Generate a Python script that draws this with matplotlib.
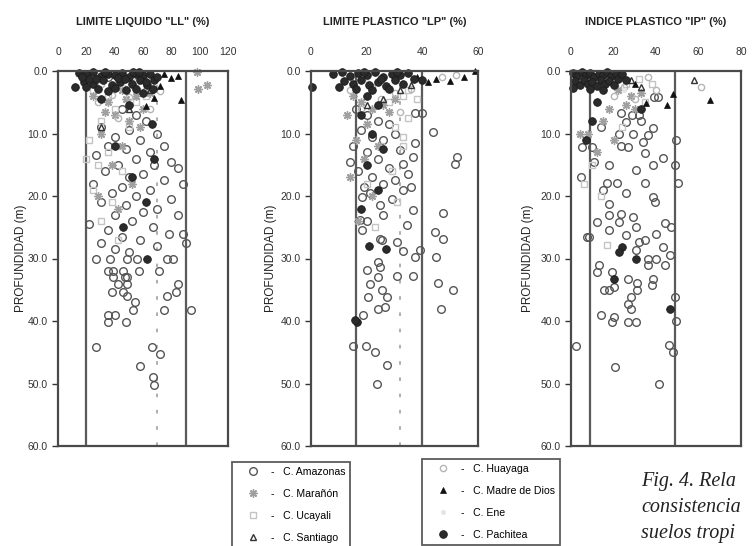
import matplotlib
matplotlib.use("Agg")
import matplotlib.pyplot as plt
from matplotlib.lines import Line2D

plt.rcParams['font.family'] = ['Liberation Sans', 'DejaVu Sans']

# data: (value %, depth m)
ll_amazonas = [(25,1.0),(35,1.0),(45,6),(55,7),(62,8),(30,9),(50,9.5),(70,10),(40,10.5),(58,11),(35,12),(75,12),
               (48,12.5),(65,13),(27,13.5),(55,14),(80,14.5),(42,15),(68,15),(85,15.5),(33,16),(60,16.5),(50,17),
               (75,17.5),(25,18),(45,18.5),(88,18),(65,19),(38,19.5),(55,20),(80,20.5),(30,21),(48,21.5),(70,22),
               (60,22.5),(40,23),(85,23),(52,24),(22,24.5),(67,25),(35,25.5),(78,26),(45,26.5),(88,26),(58,27),
               (30,27.5),(70,28),(90,27.5),(40,28.5),(50,29),
               (27,30),(37,30),(49,30),(56,30),(77,30),(81,30),(35,32),(39,32),(46,32),(57,32),(71,32),(39,33),
               (47,33),(49,33),(42,34),(49,34),(85,34),(38,35.3),(46,35.3),(83,35.3),(49,36),(77,36),(54,37),
               (53,38.2),(75,38.2),(94,38.2),(35,39),(40,39),(35,40.2),(48,40.2),(27,44.2),(66,44.2),(72,45.3),
               (58,47.2),(68,50.2),(67,49)]
ll_ucayali = [(25,3),(35,4),(55,5),(40,6),(30,8),(50,9),(22,11),(35,13),(28,15),(45,16),(25,19),(38,21),(30,24),
              (42,27),(20,14),(62,4)]
ll_maranon = [(98,0.1),(99,2.8),(105,2.2),(45,3),(55,4),(35,5),(60,6),(40,7),(50,8),(30,10),(45,12),(38,15),
              (52,18),(28,20),(42,22),(33,6.5),(48,4.5),(65,3.5),(25,4),(58,9)]
ll_huayaga = [(20,1),(30,2),(45,2.5),(55,1.8),(62,3),(38,3.8),(50,4.2),(28,5),(65,6),(42,7.5),(72,3.2)]
ll_ene = [(30,1.5),(45,2),(58,3)]
ll_santiago = [(65,3),(40,2.5),(50,6),(30,9)]
ll_madre = [(80,1.1),(87,4.6),(68,4.3),(62,5.6),(75,0.4),(72,2.4),(85,0.8)]
ll_pachitea = [(15,0.3),(20,0.5),(25,0.2),(30,0.8),(35,0.4),(40,0.6),(45,0.3),(50,0.9),(55,0.5),(60,0.7),(65,0.4),
               (68,1.5),(18,1.8),(25,2.0),(32,1.5),(38,2.2),(44,1.7),(52,2.0),(58,1.4),(63,2.3),(28,2.8),(48,3.0),
               (12,2.5),(70,1.0),(42,1.1),(22,1.2),(55,2.8),(35,3.2),(60,3.5),(17,1.0),(27,1.3),(33,0.2),(47,1.3),
               (53,0.2),(62,1.8),(67,2.8),(20,2.6),(40,2.7),(57,0.2),(30,4.5),(50,5.5),(66,8.5),(40,12),(68,14),
               (52,17),(62,21),(46,25),(63,30)]

lp_amazonas = [(37.5,6.7),(40,6.7),(44,9.8),(52.4,13.7),(51.8,14.8),(37.4,11.5),(36.6,13.7),(33,14.8),(32,12.6),
               (47.4,22.7),(44.6,25.8),(47.4,26.8),(45,29.8),(45.7,33.9),(51,35),(46.7,38),(36.6,22.2),(34.4,24.6),
               (33,28.8),(39,28.6),(37.4,29.8),(36.6,32.8),(31,32.8),(24.8,26.8),(25.5,27),(31,27.3),(24,30.6),
               (24.8,31.4),(20,31.8),(24,32.9),(21.3,34),(25.5,35),(27.2,36.1),(20.5,36.2),(26.5,37.7),(24,38),
               (18.7,39),(18.3,20.2),(21.2,19.5),(24.8,21.4),(17.6,23.8),(20,24),(18.3,25.4),(25.9,23),(15.1,44),
               (19.8,44),(23,45),(27.3,47),(23.7,50),
               (16,6),(20,7),(24,8),(28,8.5),(18,9.5),(22,10.5),(26,11),(30,10),(15,12),(20,13),(24,14),(28,15.5),
               (17,16),(22,17),(26,18),(30,17.5),(19,18.5),(33,19),(35,16.5),(14,14.5),(29,20.5),(36,18.5)]
lp_ucayali = [(28,5),(33,4),(35,7.5),(30,9),(25,12),(33,12),(29,16),(20,18),(31,21),(23,25),(35,3),(38,4.5),
              (33,10.5)]
lp_maranon = [(15,4),(18,5),(22,6),(13,7),(26,5.5),(20,8.5),(16,11),(24,12),(19,14),(14,17),(22,20),(30,4.5),
              (28,6.5),(17,24)]
lp_huayaga = [(14,3),(22,2.5),(30,3.5),(36,2.8),(47,1.0),(52,0.6),(25,4.5),(18,6),(32,6.5)]
lp_ene = [(20,1.5),(27,3)]
lp_santiago = [(32,3),(26,4.5),(20,5.5),(36,2.2)]
lp_madre = [(59,0),(45,1.2),(50,1.6),(55,1.0),(42,1.8),(38,1.0)]
lp_pachitea = [(8,0.5),(11,0.2),(14,0.8),(17,0.3),(20,0.6),(23,0.2),(26,0.9),(29,0.4),(32,0.7),(35,0.3),(12,1.6),
               (15,2.0),(18,1.4),(21,2.2),(24,1.7),(27,2.4),(30,1.5),(33,2.0),(37,1.2),(40,1.5),(10,2.6),(16,2.9),
               (22,3.0),(28,2.8),(19,0.1),(25,1.2),(31,0.1),(0.5,2.6),(20,4),(24,5.5),(18,7),(22,10),(26,12.5),
               (20,15),(24,19),(18,22),(16.5,40.2),(15.8,39.8),(21,28),(27,28.5)]

ip_amazonas = [(39,4.2),(41,4.2),(31.8,7),(28.5,7),(23.4,6.7),(26,8.2),(38.8,9.1),(36.4,10.2),(29.4,10),(22.4,10),
               (34,11.3),(49.5,11),(27,12.2),(35,13.1),(23.4,12),(9.8,12.2),(5,12.2),(43.5,13.9),(49,15),(38.8,15),
               (30.4,15.8),(4.7,16.9),(16.8,17.9),(21.5,17.9),(35,17.9),(50.5,17.9),(17.8,21.2),(23.4,22.8),
               (17.8,23),(12.3,24.2),(22.4,24.2),(29.4,23.4),(30.4,25),(17.8,25.4),(7.5,26.5),(39.6,21),(38.8,20.1),
               (44.3,24.3),(47,24.9),(40.2,26),(35,27),(31.8,27.3),(25.7,26.2),(43.5,28.1),(30.4,28.6),(36.4,30),
               (40.2,30),(46.7,29.4),(44.3,31),(36.4,31),(13,31),(12.3,32.1),(19.2,32.1),(27,33.2),(38.8,33.2),
               (37.9,34.2),(31,33.9),(31,35),(20,34.5),(15.4,35),(17.8,35),(28,36.1),(27,37.2),(28,38),(49,36.1),
               (14,39),(20,39.3),(19.2,40.1),(27,40.1),(30.4,40.1),(8.4,26.5),(2.3,44),(20.6,47.4),(41.6,50),
               (46,43.8),(48,45),(49.5,40),(15,19),(26,19.5),(11,14.5),(18,15),(14,9),(33,8)]
ip_ucayali = [(16.8,27.8),(26,2),(32,1.2),(38,2),(35,5),(24,9),(10,15),(14,20),(6,18)]
ip_maranon = [(22,3),(28,4),(33,3.5),(18,6),(26,5.5),(15,8),(30,6),(8,10),(20,11),(4,10),(12,13)]
ip_huayaga = [(61,2.5),(25,2.5),(36,1.0),(40,3),(30,4.5),(20,4)]
ip_ene = [(12,1.5),(25,3)]
ip_santiago = [(58,1.4),(28,1.5),(33,2.5)]
ip_madre = [(48,3.6),(45,5.4),(35.5,5.1),(65.5,4.6),(30,2)]
ip_pachitea = [(1,0.3),(3,0.8),(5,0.2),(7,0.6),(9,0.3),(11,0.9),(13,0.4),(15,0.7),(17,0.2),(19,0.8),(21,0.4),
               (2,1.6),(4,2.2),(6,1.5),(8,2.0),(10,1.7),(12,2.4),(14,1.5),(16,2.1),(18,1.6),(20,2.3),(22,1.2),
               (1,2.7),(9,2.9),(15,3.0),(24,0.5),(26,1.5),(12,5),(10,8),(7,11),(23.8,28.1),(22.4,29),(30.4,30),
               (20,33.2),(46.7,38),(33,6)]

titles = ['LIMITE LIQUIDO "LL" (%)', 'LIMITE PLASTICO "LP" (%)', 'INDICE PLASTICO "IP" (%)']
x_ticks = [[0, 20, 40, 60, 80, 100, 120], [0, 20, 40, 60], [0, 20, 40, 60, 80]]
x_max = [120, 60, 80]
limit_lines = [[20, 90], [16, 40], [9, 49]]
mean_lines = [70, 32, None]
depth_ticks = [0, 10, 20, 30, 40, 50, 60]

series_names = ["C. Amazonas", "C. Marañón", "C. Ucayali", "C. Santiago",
                "C. Huayaga", "C. Madre de Dios", "C. Ene", "C. Pachitea"]

# marker styles for each basin
styles = {
    "C. Amazonas": dict(marker="o", ms=5.5, mfc="none", mec="#555555", mew=1.0),
    "C. Marañón": dict(marker=(8, 2, 0), ms=6, mfc="#a0a0a0", mec="#a0a0a0", mew=1.0),
    "C. Ucayali": dict(marker="s", ms=5, mfc="none", mec="#c4c4c4", mew=1.0),
    "C. Santiago": dict(marker="^", ms=5, mfc="none", mec="#333333", mew=1.0),
    "C. Huayaga": dict(marker="o", ms=4.5, mfc="none", mec="#b5b5b5", mew=1.0),
    "C. Madre de Dios": dict(marker="^", ms=4.5, mfc="#111111", mec="#111111", mew=0.5),
    "C. Ene": dict(marker="o", ms=3, mfc="#e4e4e4", mec="#e4e4e4", mew=0.5),
    "C. Pachitea": dict(marker="o", ms=5.5, mfc="#2b2b2b", mec="#1a1a1a", mew=0.6),
}

panels = [
    {"C. Amazonas": ll_amazonas, "C. Ucayali": ll_ucayali, "C. Marañón": ll_maranon, "C. Huayaga": ll_huayaga,
     "C. Ene": ll_ene, "C. Santiago": ll_santiago, "C. Madre de Dios": ll_madre, "C. Pachitea": ll_pachitea},
    {"C. Amazonas": lp_amazonas, "C. Ucayali": lp_ucayali, "C. Marañón": lp_maranon, "C. Huayaga": lp_huayaga,
     "C. Ene": lp_ene, "C. Santiago": lp_santiago, "C. Madre de Dios": lp_madre, "C. Pachitea": lp_pachitea},
    {"C. Amazonas": ip_amazonas, "C. Ucayali": ip_ucayali, "C. Marañón": ip_maranon, "C. Huayaga": ip_huayaga,
     "C. Ene": ip_ene, "C. Santiago": ip_santiago, "C. Madre de Dios": ip_madre, "C. Pachitea": ip_pachitea},
]

W, H = 753, 546
fig = plt.figure(figsize=(W / 100, H / 100), dpi=100)

# axes boxes in pixels: left, width
boxes = [(58, 170), (311, 167), (571, 170)]
ylabel_off = [31, 34, 37]
top_px, bottom_px = 71, 446

for i in range(3):
    left, width = boxes[i]
    ax = fig.add_axes([left / W, 1 - bottom_px / H, width / W, (bottom_px - top_px) / H])
    for name, pts in panels[i].items():
        xs = [p[0] for p in pts]
        ys = [p[1] for p in pts]
        ax.plot(xs, ys, linestyle="none", clip_on=False, **styles[name])
    for v in limit_lines[i]:
        ax.axvline(v, color="#5a5a5a", lw=1.6, zorder=0)
    if mean_lines[i] is not None:
        ax.axvline(mean_lines[i], color="#a8a8a8", lw=1.3, linestyle=(0, (2, 7)), zorder=0)
    ax.set_xlim(0, x_max[i])
    ax.set_ylim(60, 0)
    ax.set_yticks(depth_ticks)
    ax.set_yticklabels([f"{d:.1f}" for d in depth_ticks])
    ax.set_xticks(x_ticks[i])
    ax.xaxis.tick_top()
    ax.tick_params(axis="x", length=0, pad=10, labelsize=7.5, colors="#333333")
    ax.tick_params(axis="y", length=4, width=1, direction="out", labelsize=7.5, colors="#333333")
    for s in ax.spines.values():
        s.set_linewidth(1.6)
        s.set_color("#4a4a4a")
    ax.set_ylabel("PROFUNDIDAD (m)", fontsize=8.5, color="#222222")
    ax.yaxis.set_label_coords(-ylabel_off[i] / width, 0.5)
    ax.text(0.5, 1 + 49 / (bottom_px - top_px), titles[i], transform=ax.transAxes,
            ha="center", va="center", fontsize=8, fontweight="bold", color="#222222")

# the two legend boxes under the middle panel
def make_handles(names):
    hs = []
    for n in names:
        hs.append(Line2D([], [], linestyle="none", **styles[n]))
    return hs

labels1 = ["-   " + n for n in series_names[:4]]
labels2 = ["-   " + n for n in series_names[4:]]
leg_kw = dict(loc="upper left", fontsize=7.6, frameon=True, fancybox=False, edgecolor="#333333",
              labelspacing=1.15, handlelength=3.0, handletextpad=0.25, borderpad=0.45, borderaxespad=0)
leg1 = fig.legend(make_handles(series_names[:4]), labels1, bbox_to_anchor=(232 / W, 1 - 462 / H), **leg_kw)
leg2 = fig.legend(make_handles(series_names[4:]), labels2, bbox_to_anchor=(422 / W, 1 - 459 / H), **leg_kw)
for leg in (leg1, leg2):
    leg.get_frame().set_linewidth(1.3)

# caption, only the part visible in the cropped page
caption = ["Fig. 4. Rela", "consistencia", "suelos tropi"]
for k, line in enumerate(caption):
    fig.text(641 / W, 1 - (486 + 26 * k) / H, line, fontsize=14.5, style="italic",
             family="Liberation Serif", color="#222222", va="baseline")

fig.savefig("out.png", dpi=100)
